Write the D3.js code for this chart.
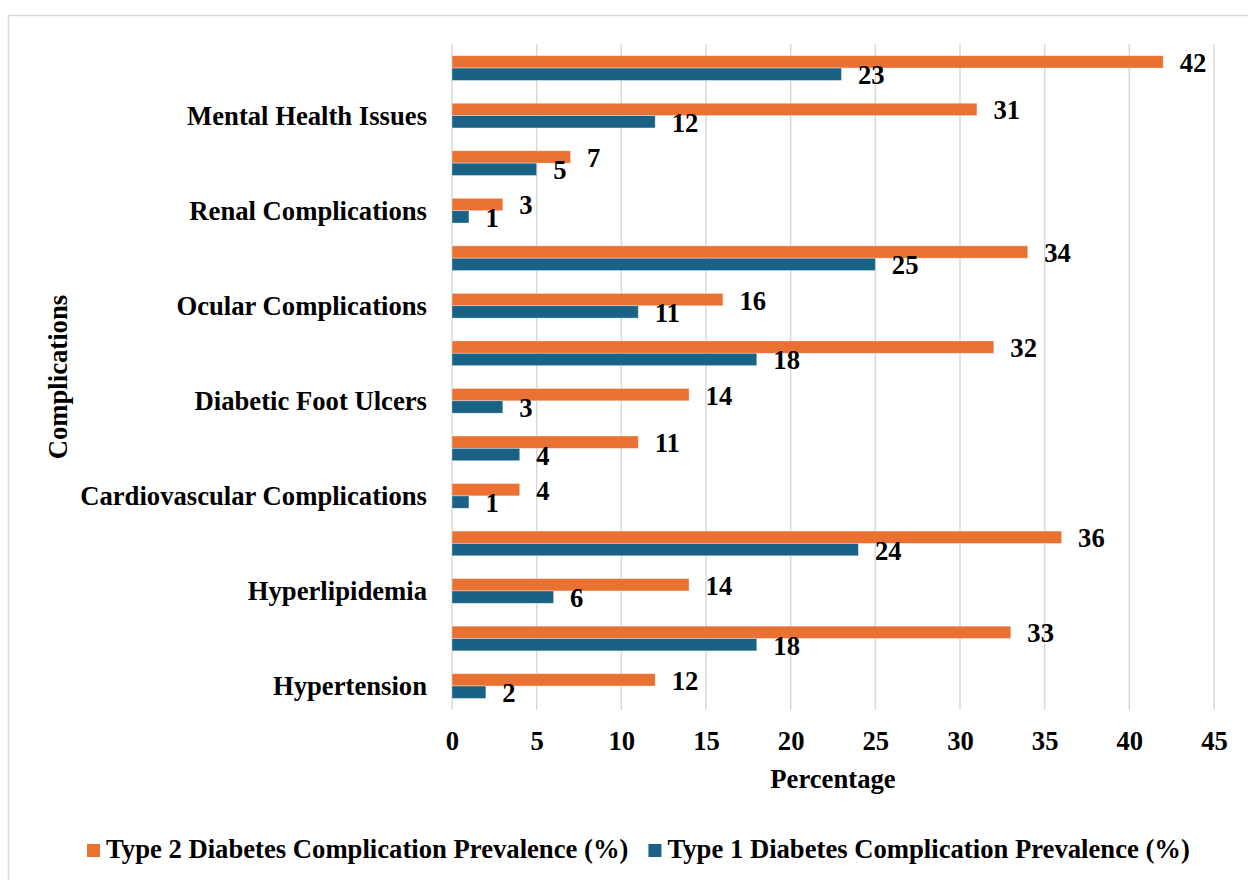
<!DOCTYPE html>
<html>
<head>
<meta charset="utf-8">
<script src="https://cdn.jsdelivr.net/npm/d3@7"></script>
<style>
  html, body { margin: 0; padding: 0; background: #fff; }
  svg { display: block; }
  text { font-family: "Liberation Serif", "Times New Roman", serif; font-weight: bold; fill: #000; }
</style>
</head>
<body>
<svg id="chart" width="1248" height="880"></svg>
<script>
// Categories listed bottom to top (Excel order). Only every other label is shown in the reference.
const categories = [
  "Hypertension",
  "Obesity",
  "Hyperlipidemia",
  "Dyslipidemia",
  "Cardiovascular Complications",
  "Stroke",
  "Diabetic Foot Ulcers",
  "Peripheral Neuropathy",
  "Ocular Complications",
  "Diabetic Retinopathy",
  "Renal Complications",
  "Chronic Kidney Disease",
  "Mental Health Issues",
  "Depression"
];
const shownLabels = [
  "Hypertension", "Hyperlipidemia", "Cardiovascular Complications",
  "Diabetic Foot Ulcers", "Ocular Complications", "Renal Complications",
  "Mental Health Issues"
];
const type2Values = [12, 33, 14, 36, 4, 11, 14, 32, 16, 34, 3, 7, 31, 42];
const type1Values = [2, 18, 6, 24, 1, 4, 3, 18, 11, 25, 1, 5, 12, 23];
const seriesNames = [
  "Type 2 Diabetes Complication Prevalence (%)",
  "Type 1 Diabetes Complication Prevalence (%)"
];
const xTicks = [0, 5, 10, 15, 20, 25, 30, 35, 40, 45];
const xTitle = "Percentage";
const yTitle = "Complications";

const colors = ["#E97132", "#196185"];
const FS = 26.67;

const svg = d3.select("#chart");

// outer chart border (extends past right/bottom edges, as in the reference)
svg.append("rect")
  .attr("x", 8.5).attr("y", 15.5)
  .attr("width", 1300).attr("height", 900)
  .attr("fill", "none").attr("stroke", "#d9d9d9").attr("stroke-width", 1.5);

const plot = { left: 452, right: 1214, top: 44.3, bottom: 709.8 };

const x = d3.scaleLinear().domain([0, 45]).range([plot.left, plot.right]);
const y = d3.scaleBand()
  .domain(categories)
  .range([plot.bottom, plot.top])
  .paddingInner(0.48)
  .paddingOuter(0.24);

// gridlines
svg.append("g").selectAll("line")
  .data(xTicks).join("line")
  .attr("x1", d => x(d)).attr("x2", d => x(d))
  .attr("y1", plot.top).attr("y2", plot.bottom)
  .attr("stroke", "#d9d9d9").attr("stroke-width", 1.5);

// x axis tick labels
const xAxis = d3.axisBottom(x).tickValues(xTicks).tickSize(0).tickPadding(0);
const gx = svg.append("g").attr("transform", `translate(0,${plot.bottom})`).call(xAxis);
gx.select(".domain").remove();
gx.selectAll("text")
  .attr("dy", null).attr("y", 40)
  .style("font-family", '"Liberation Serif", "Times New Roman", serif')
  .style("font-weight", "bold")
  .style("font-size", FS + "px")
  .attr("fill", "#000");

// y axis labels (every other category)
const yAxis = d3.axisLeft(y).tickSize(0).tickPadding(0)
  .tickFormat(d => shownLabels.includes(d) ? d : "");
const gy = svg.append("g").attr("transform", `translate(427,0)`).call(yAxis);
gy.select(".domain").remove();
gy.selectAll("text")
  .attr("x", 0).attr("dy", null)
  .attr("dominant-baseline", "auto")
  .attr("transform", `translate(0,9.3)`)
  .style("font-family", '"Liberation Serif", "Times New Roman", serif')
  .style("font-weight", "bold")
  .style("font-size", FS + "px")
  .attr("fill", "#000");

// bars
const half = y.bandwidth() / 2;
const rows = categories.map((c, i) => ({ c, v2: type2Values[i], v1: type1Values[i] }));

const gBars = svg.append("g");
gBars.selectAll("rect.t2").data(rows).join("rect")
  .attr("class", "t2")
  .attr("x", x(0)).attr("y", d => y(d.c))
  .attr("width", d => x(d.v2) - x(0)).attr("height", half)
  .attr("fill", colors[0])
  .attr("stroke", "#fff").attr("stroke-opacity", 0.45).attr("stroke-width", 0.8);
gBars.selectAll("rect.t1").data(rows).join("rect")
  .attr("class", "t1")
  .attr("x", x(0)).attr("y", d => y(d.c) + half)
  .attr("width", d => x(d.v1) - x(0)).attr("height", half)
  .attr("fill", colors[1])
  .attr("stroke", "#fff").attr("stroke-opacity", 0.45).attr("stroke-width", 0.8);

// value labels
const gLab = svg.append("g").style("font-size", FS + "px");
gLab.selectAll("text.l2").data(rows).join("text")
  .attr("class", "l2")
  .attr("x", d => x(d.v2) + 16.5)
  .attr("y", d => y(d.c) + half / 2 + 10)
  .text(d => d.v2);
gLab.selectAll("text.l1").data(rows).join("text")
  .attr("class", "l1")
  .attr("x", d => x(d.v1) + 16.5)
  .attr("y", d => y(d.c) + half * 1.5 + 10)
  .text(d => d.v1);

// axis titles
svg.append("text")
  .attr("x", (plot.left + plot.right) / 2).attr("y", 788)
  .attr("text-anchor", "middle")
  .style("font-size", FS + "px")
  .text(xTitle);
svg.append("text")
  .attr("transform", `translate(67,${(plot.top + plot.bottom) / 2}) rotate(-90)`)
  .attr("text-anchor", "middle")
  .style("font-size", FS + "px")
  .text(yTitle);

// legend
const legend = svg.append("g");
let lx = 87;
seriesNames.forEach((name, i) => {
  legend.append("rect")
    .attr("x", lx).attr("y", 844).attr("width", 13).attr("height", 13)
    .attr("fill", colors[i]);
  const t = legend.append("text")
    .attr("x", lx + 19).attr("y", 858)
    .style("font-size", FS + "px")
    .text(name);
  lx = lx + 19 + t.node().getComputedTextLength() + 20;
});
</script>
</body>
</html>
